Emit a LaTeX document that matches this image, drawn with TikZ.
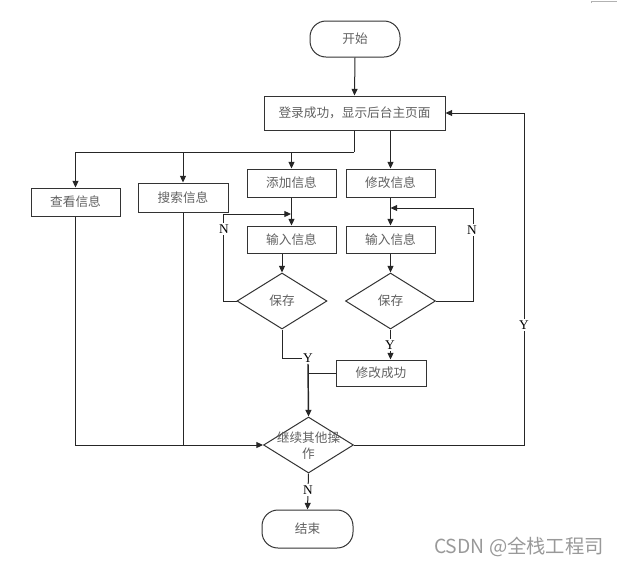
\documentclass[tikz,border=0pt]{standalone}
\usepackage{fontspec}
\setmainfont{Liberation Serif}
\newfontfamily\cjk{Noto Sans CJK SC}
\usetikzlibrary{arrows.meta,shapes.geometric}
\begin{document}
\begin{tikzpicture}[x=0.75pt,y=-0.75pt,
  box/.style={draw=black!80,line width=0.75pt,inner sep=0pt,
    font=\cjk\fontsize{9.5}{11}\selectfont,text=black!62},
  term/.style={box,rounded corners=12pt},
  dec/.style={draw=black!80,line width=0.75pt,diamond,inner sep=0pt,
    minimum width=67.5pt,minimum height=42pt},
  dtext/.style={font=\cjk\fontsize{9.5}{12}\selectfont,text=black!62,align=center,inner sep=0pt},
  lbl/.style={font=\fontsize{10}{11}\selectfont,inner sep=1pt,fill=white},
  link/.style={draw=black!85,line width=0.75pt},
  arr/.style={link,-{Triangle[length=5pt,width=4.5pt]}}]
\useasboundingbox (0,0) rectangle (617,565);

% terminators and process boxes
\node[term,minimum width=67.5pt,minimum height=27pt] (start) at (355,39) {开始};
\node[box,minimum width=135.75pt,minimum height=25.5pt] (main) at (354.5,113) {登录成功，显示后台主页面};
\node[box,minimum width=66.75pt,minimum height=21pt] (view) at (75.5,202) {查看信息};
\node[box,minimum width=67.5pt,minimum height=21.75pt] (search) at (183,197.5) {搜索信息};
\node[box,minimum width=66.75pt,minimum height=21pt] (add) at (291.5,183) {添加信息};
\node[box,minimum width=66.75pt,minimum height=21pt] (modify) at (390.5,183) {修改信息};
\node[box,minimum width=66.75pt,minimum height=20.25pt] (inL) at (291.5,239.5) {输入信息};
\node[box,minimum width=66.75pt,minimum height=20.25pt] (inR) at (390.5,239.5) {输入信息};
\node[dec] (saveL) at (282,301) {};
\node[dtext] at (saveL) {保存};
\node[dec] (saveR) at (390.5,301) {};
\node[dtext] at (saveR) {保存};
\node[box,minimum width=67.5pt,minimum height=19.5pt] (done) at (381,373) {修改成功};
\node[dec] (cont) at (308.5,445) {};
\node[dtext] at (308.5,446) {继续其他操\\作};
\node[term,minimum width=68.25pt,minimum height=28.5pt] (end) at (307.5,529) {结束};

% helper points for the loops
\coordinate (split) at (354,152);
\coordinate (loopL) at (291,214);
\coordinate (loopR) at (390.5,208);
\coordinate (backX) at (524,113);

% main flow
\draw[arr] (start.south) -- (main.north);
\draw[link] (main.south -| split) -- (split);
\draw[arr] (split) -| (view.north);
\draw[arr] (search.north |- split) -- (search.north);
\draw[arr] (add.north |- split) -- (add.north);
\draw[arr] (modify.north |- main.south) -- (modify.north);
\draw[arr] (add.south) -- (inL.north);
\draw[arr] (modify.south) -- (inR.north);
\draw[arr] (inL.south -| saveL.north) -- (saveL.north);
\draw[arr] (inR.south) -- (saveR.north);

% "N" loops back to input
\draw[arr] (saveL.west) -- ++(-13,0) |- (loopL);
\node[lbl] at (224,229) {N};
\draw[arr] (saveR.east) -- ++(37,0) |- (loopR);
\node[lbl] at (472,230) {N};

% "Y" branches
\node[lbl,fill=none] (yL) at (308,358) {Y};
\draw[link] (saveL.south) |- (yL.west);
\draw[arr,line width=1.1pt] (yL.south) -- (cont.north);
\draw[arr] (saveR.south) -- (saveR.south |- done.north);
\node[lbl] at (390,345) {Y};
\draw[link] (done.west) -- (done.west -| yL.south);

% into "continue"
\draw[arr] (view.south) |- (cont.west);
\draw[link] (search.south) -- (search.south |- cont.west);

% back to main page
\draw[arr] (cont.east) -| (backX) -- (main.east);
\node[lbl] at (524,325) {Y};

% to end
\draw[arr] (cont.south) -- (end.north);
\node[lbl] at (308,490) {N};

% corner mark and watermark
\draw[black!30,line width=0.5pt] (591,3) -- (591,1) -- (617,1);
\node[font=\cjk\fontsize{14.5}{16}\selectfont,text=black!40,inner sep=0pt] (wm) at (519,547) {CSDN @全栈工程司};
\end{tikzpicture}
\end{document}
